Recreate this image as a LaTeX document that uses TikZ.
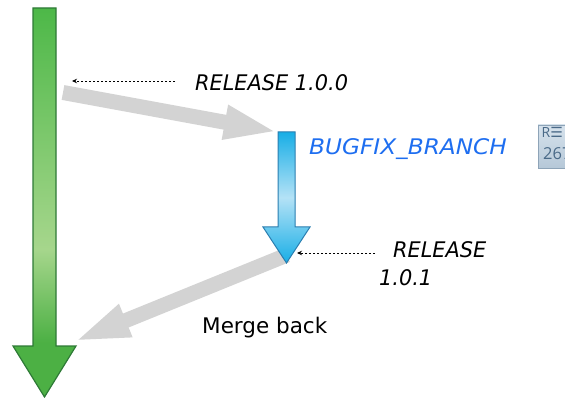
\documentclass[tikz,border=0pt]{standalone}
\usepackage{fontspec}
\setmainfont{DejaVu Sans}
\newfontfamily\boxfont{Open Sans}
\newfontfamily\symfont{DejaVu Sans}
\usetikzlibrary{arrows.meta}
\definecolor{gtop}{HTML}{4DB848}
\definecolor{glight}{HTML}{A6D68C}
\definecolor{gbot}{HTML}{4CB044}
\definecolor{gline}{HTML}{2E7A36}
\definecolor{btop}{HTML}{18AEE6}
\definecolor{blight}{HTML}{B4E2F6}
\definecolor{bline}{HTML}{2A7EB0}
\definecolor{grayc}{HTML}{D3D3D3}
\definecolor{bugblue}{HTML}{1E6EF0}
\definecolor{boxfillA}{HTML}{D6E2EC}
\definecolor{boxfillB}{HTML}{B6C8D8}
\definecolor{boxline}{HTML}{8EA4B8}
\definecolor{boxtext}{HTML}{4A6A88}
\pgfdeclareverticalshading{greenshade}{100bp}{color(0bp)=(gbot); color(25bp)=(gbot); color(32bp)=(gbot); color(44bp)=(glight); color(75bp)=(gtop); color(100bp)=(gtop)}
\begin{document}
\begin{tikzpicture}[x=1pt,y=-1pt,
  grayarrow/.style={draw=grayc, line width=15pt, line cap=butt},
  dasharrow/.style={draw=black, line width=0.8pt, dash pattern=on 2.5pt off 1.5pt, -{Stealth[length=5pt,width=4.5pt]}},
  reltext/.style={font=\fontsize{21.5}{26}\selectfont\itshape, inner sep=0pt},
  plaintext/.style={font=\fontsize{21.5}{26}\selectfont, inner sep=0pt},
  boxtxt/.style={font=\boxfont\fontsize{16.5}{18}\selectfont, text=boxtext, inner sep=0pt}
]
\useasboundingbox (0,0) rectangle (565,398);

% main (green) branch
\path[draw=gline, line width=1.2pt, shading=greenshade, line join=miter]
  (33,8) -- (56,8) -- (56,346) -- (76,346) -- (44.5,397) -- (13,346) -- (33,346) -- cycle;

% gray block arrows
\coordinate (g1s) at (63,92.5);
\coordinate (g1e) at (278,132);
\draw[grayarrow, -{Triangle[width=31pt,length=54pt]}] (g1s) -- (g1e);
\coordinate (g2s) at (287,255);
\coordinate (g2e) at (73,342);
\draw[grayarrow, -{Triangle[width=31pt,length=57pt]}] (g2s) -- (g2e);

% bugfix (blue) branch
\path[draw=bline, line width=1pt, top color=btop, bottom color=btop, middle color=blight, line join=miter]
  (278,132) -- (295,132) -- (295,227) -- (310,227) -- (286.5,263) -- (263,227) -- (278,227) -- cycle;

% dashed pointers
\coordinate (d1s) at (175,81);
\coordinate (d1e) at (72,81);
\draw[dasharrow] (d1s) -- (d1e);
\coordinate (d2s) at (375,253);
\coordinate (d2e) at (297,253);
\draw[dasharrow] (d2s) -- (d2e);

% labels
\node[reltext, anchor=base west] (rel1) at (195,91) {\scalebox{0.97}[1]{RELEASE 1.0.0}};
\node[reltext, anchor=base west, text=bugblue] (bug) at (309,155) {\scalebox{1.08}[1]{BUGFIX\_BRANCH}};
\node[reltext, anchor=base west] (rel2a) at (393,258) {\scalebox{0.97}[1]{RELEASE}};
\node[reltext, anchor=base west] (rel2b) at (379,285) {\scalebox{0.97}[1]{1.0.1}};
\node[plaintext, anchor=base west] (merge) at (202,333) {Merge back};

% partially visible box at the right edge
\begin{scope}
\clip (0,0) rectangle (565,398);
\path[draw=boxline, line width=0.8pt, top color=boxfillA, bottom color=boxfillB] (538,125) rectangle (580,168);
\node[boxtxt, anchor=base west, font=\boxfont\fontsize{14}{16}\selectfont] (boxr) at (541.5,137.5) {R{\symfont ☰}};
\node[boxtxt, anchor=base west] (boxn) at (543,160) {267};
\end{scope}
\end{tikzpicture}
\end{document}
